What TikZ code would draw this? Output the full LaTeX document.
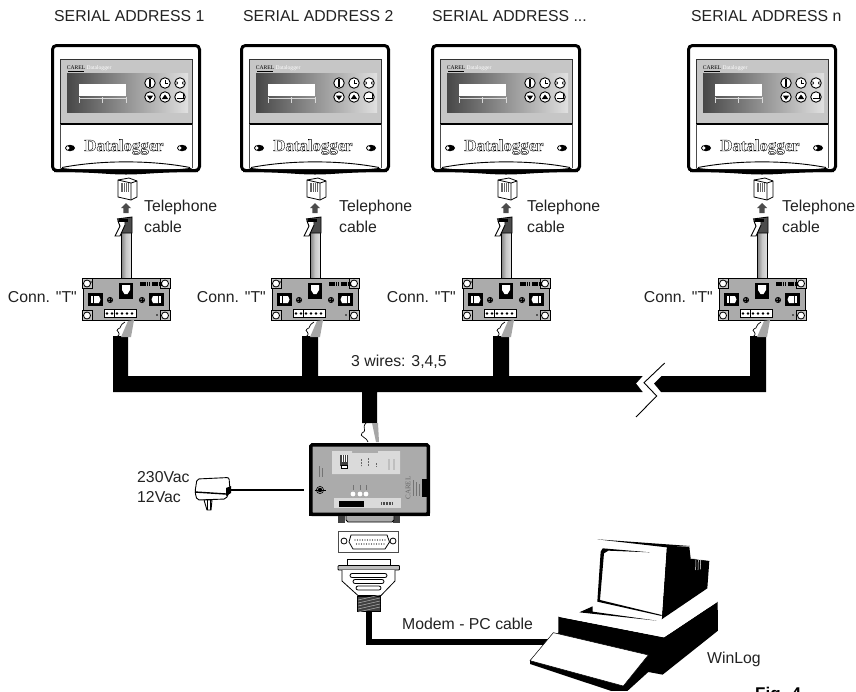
\documentclass[tikz,border=0pt]{standalone}
\usepackage{fontspec}
\setmainfont{Liberation Sans}[Ligatures=TeXOff]
\newfontfamily\dlfont{Liberation Serif}[BoldFeatures={FakeBold=2.2}]
\newfontfamily\smfont{Liberation Serif}
\usetikzlibrary{arrows.meta}
\definecolor{txt}{HTML}{222222}
\definecolor{panel}{HTML}{C6C6C6}
\definecolor{boxg}{HTML}{ABABAB}
\definecolor{lightp}{HTML}{DADADA}
\tikzset{
  lbl/.style={anchor=west,inner sep=0pt,text=txt,font=\fontsize{15.8}{18}\selectfont},
  lble/.style={lbl,anchor=east},
  btn/.style={circle,draw=black,line width=.9pt,fill=white,minimum size=10.5pt,inner sep=0pt},
  screwc/.style={circle,draw=black,line width=.8pt,fill=white,minimum size=7pt,inner sep=0pt}
}
% #1 centre x, #2 name
\newcommand\dlunit[2]{%
\begin{scope}[shift={(#1,0)}]
  \node[draw=black,line width=3pt,rounded corners=4pt,fill=white,minimum width=147pt,minimum height=125pt,inner sep=0pt] (#2) at (0,108) {};
  \fill[panel] (-66,59) rectangle (66,124);
  \draw[black!80,line width=.8pt] (-66,124) -- (-66,59) -- (66,59) -- (66,124);
  \draw[black,line width=1.2pt] (-66,124) -- (66,124);
  \draw[black!70,line width=.7pt] (-66,124) -- (-66,168) (66,124) -- (66,168);
  \shade[left color=black!72,right color=black!12] (-59,73) rectangle (62,112);
  \fill[white] (-47,84) rectangle (0,96);
  \draw[white!85!black,line width=.6pt] (-47,97) -- (-47,103) (-24,97) -- (-24,103) (0,97) -- (0,103) (-47,98) -- (0,98);
  \node[inner sep=0pt,text=black,font=\smfont\fontsize{5.6}{6}\selectfont] (#2c) at (-50,67.5) {CAREL};
  \draw[black,line width=.4pt] (-58,71) -- (-42,71);
  \node[inner sep=0pt,text=white,font=\smfont\fontsize{5.6}{6}\selectfont] at (-27,68) {Datalogger};
  \node[btn] at (24,83) {}; \node[btn] at (39,83) {}; \node[btn] at (54,83) {};
  \node[btn] at (24,97) {}; \node[btn] at (39,97) {}; \node[btn] at (54,97) {};
  \fill[black] (23.2,78.5) rectangle (24.8,86.5);
  \draw[black,line width=.7pt] (39,83) -- (39,79.5) (39,83) -- (42,83);
  \fill[black] (52,83) -- (50.6,80.8) -- (50.6,85.2) -- cycle (56,83) -- (57.4,80.8) -- (57.4,85.2) -- cycle;
  \fill[black] (20.8,95.5) -- (27.2,95.5) -- (24,100) -- cycle;
  \fill[black] (35.8,99) -- (42.2,99) -- (39,94.5) -- cycle;
  \draw[black,line width=.9pt] (57,93.5) -- (57,98) -- (51,98);
  % eyes
  \fill[black] (-56,148) ellipse (5pt and 3.2pt);
  \fill[white] (-58.2,148) circle (1.9pt);
  \fill[black] (56,148) ellipse (5pt and 3.2pt);
  \fill[white] (53.8,148) circle (1.9pt);
  % name
  \node[inner sep=0pt,font=\dlfont\bfseries\fontsize{16.8}{18}\selectfont] at (-2,147) {\special{pdf:bcolor [1] [0]}Datalogger\special{pdf:ecolor}};
  % lower lip
  \fill[white] (-66,168.5) .. controls (-25,160) and (25,160) .. (66,168.5) -- (66,169) -- (-66,169) -- cycle;
  \draw[black,line width=.9pt] (-64,167.5) .. controls (-25,160) and (25,160) .. (64,167.5);
  \fill[black] (-64,168) .. controls (-30,172) and (30,172) .. (64,168) -- (72,171) -- (72,172) .. controls (30,172) and (20,174.5) .. (0,174.5) .. controls (-20,174.5) and (-30,172) .. (-72,172) -- (-72,171) -- cycle;
  % socket on the logger
  \draw[black,line width=.8pt,fill=white] (-8,180) -- (3,178) -- (11,181) -- (11,197) -- (5,200) -- (-8,197) -- cycle;
  \draw[black,line width=.8pt] (-8,180) -- (5,183) -- (11,181) (5,183) -- (5,200);
  \fill[black!60] (-5,183) rectangle (3,192);
  \draw[white,line width=.5pt] (-3,183) -- (-3,192) (-1,183) -- (-1,192) (1,183) -- (1,192);
  % arrow
  \fill[black!70] (0,203) -- (5,208) -- (2.7,208) -- (2.7,213) -- (-2.7,213) -- (-2.7,208) -- (-5,208) -- cycle;
  % cable
  \shade[left color=black!50,right color=black!12,middle color=black!22] (-5,230) rectangle (5,278);
  \draw[black,line width=.9pt] (-5,230) -- (-5,278) (5,230) -- (5,278);
  % plug
  \fill[black!70] (-9,219) -- (6,217) -- (6,233) -- (-4,233) -- cycle;
  \draw[black,line width=.9pt] (-9,219) -- (6,217) -- (6,233) -- (-5,233);
  \draw[black,line width=.9pt,fill=white] (-8,221) -- (-1,221) -- (-1,225) -- (-6,236) -- (-11,236) -- (-6,226) -- cycle;
  \fill[black] (-7,218.5) rectangle (2,222);
  % T connector
  \node[draw=black,line width=1pt,fill=boxg,minimum width=86pt,minimum height=42pt,inner sep=0pt] (#2t) at (0,299.5) {};
  \foreach \p/\q in {-39/283.5,39/283.5,-39/315.5,39/315.5}{
    \draw[black,line width=.6pt,fill=panel] (\p-5,\q-5) rectangle (\p+5,\q+5);
    \node[screwc] at (\p,\q) {};}
  \fill[black] (-38,293) rectangle (-23,306);
  \fill[white] (-35,296) rectangle (-33,303);
  \fill[white] (-32,296) -- (-27,296) -- (-25.5,299.5) -- (-27,303) -- (-32,303) -- cycle;
  \fill[black] (23,293) rectangle (38,306);
  \fill[white] (33,296) rectangle (35,303);
  \fill[white] (32,296) -- (27,296) -- (25.5,299.5) -- (27,303) -- (32,303) -- cycle;
  \fill[black] (-7,283) rectangle (7,299);
  \fill[white] (-4,285) -- (4,285) -- (4,290) -- (1.5,294) -- (-1.5,294) -- (-4,290) -- cycle;
  \foreach \p in {-16,16}{
    \draw[black,line width=.8pt,fill=black!60] (\p,300) circle (2.6pt);
    \draw[black,line width=.4pt] (\p-2,300) -- (\p+2,300) (\p,298) -- (\p,302);}
  \draw[black,line width=4pt,dash pattern=on 1.6pt off .6pt] (14,284) -- (23.5,284) (26,284) -- (35.5,284);
  \fill[black] (-35,282) circle (.8pt);
  \fill[black] (31,315) circle (.9pt);
  \draw[black,line width=.7pt,fill=white] (-22,309) rectangle (10,317);
  \foreach \p in {-19,-14,-9,-4,1,6}{\fill[black] (\p,313.5) circle (1.4pt);}
  \draw[black,line width=.7pt] (-12,309) -- (-12,317);
  \draw[black,line width=.7pt] (-1,322) .. controls (-7,325) and (-4,328) .. (-8,329) .. controls (-12,331) and (-3,332) .. (-9,337);
  \fill[black!35] (2,321) -- (8,320) -- (5,337) -- (-5,337) -- cycle;
\end{scope}}
\begin{document}
\begin{tikzpicture}[x=1pt,y=-1pt]
\useasboundingbox (0,0) rectangle (856,691);
\fill[white] (0,0) rectangle (856,691);
\begin{scope}
\clip (0,0) rectangle (856,691);
\node[anchor=west,inner sep=0pt,text=black,font=\bfseries\fontsize{17}{20}\selectfont] (figlabel) at (755,695) {Fig. 4};
\end{scope}

% bus behind connectors
\fill[black] (113,336) -- (128,336) -- (128,376) -- (302,376) -- (302,336) -- (318,336) -- (318,376) -- (493,376) -- (493,336) -- (509,336) -- (509,376) -- (642.7,376) -- (636,383.5) -- (642.7,392) -- (377,392) -- (377,423) -- (362,423) -- (362,392) -- (113,392) -- cycle;
\fill[black] (661.7,376) -- (750,376) -- (750,336) -- (766,336) -- (766,392) -- (661,392) -- (654,383.5) -- cycle;
\draw[black,line width=.9pt] (664.7,363) -- (644,382.7) -- (656.7,396) -- (636,417);

\dlunit{126}{a}
\dlunit{315}{b}
\dlunit{506}{c}
\dlunit{762}{d}

% labels
\node[lbl] (s1) at (54,16) {SERIAL ADDRESS 1};
\node[lbl] (s2) at (243,16) {SERIAL ADDRESS 2};
\node[lbl] (s3) at (432,16) {SERIAL ADDRESS ...};
\node[lbl] (s4) at (691,16) {SERIAL ADDRESS n};
\node[lbl] (t1) at (144,207) {Telephone};
\node[lbl] (t1b) at (144,227) {cable};
\node[lbl] (t2) at (339,207) {Telephone};
\node[lbl] (t2b) at (339,227) {cable};
\node[lbl] (t3) at (527,207) {Telephone};
\node[lbl] (t3b) at (527,227) {cable};
\node[lbl] (t4) at (782,207) {Telephone};
\node[lbl] (t4b) at (782,227) {cable};
\node[lble] (k1) at (77,297) {Conn. "T"};
\node[lble] (k2) at (266,297) {Conn. "T"};
\node[lble] (k3) at (456,297) {Conn. "T"};
\node[lble] (k4) at (713,297) {Conn. "T"};
\node[lbl] (wires) at (351,362) {3 wires: 3,4,5};
\node[lbl] (v1) at (137,477) {230Vac};
\node[lbl] (v2) at (137,497) {12Vac};
\node[lbl] (mc) at (402,624) {Modem - PC cable};
\node[lbl] (wl) at (707,659) {WinLog};

% wires to the device
\draw[black,line width=.7pt] (366,423) .. controls (361,428) and (368,430) .. (362,433) .. controls (358,436) and (368,438) .. (368,442);
\fill[black!35] (372,423) -- (378,423) -- (379,442) -- (376,442) -- cycle;

% device
\node[draw=black,line width=3.5pt,rounded corners=1.5pt,fill=boxg,minimum width=117.5pt,minimum height=69.5pt,inner sep=0pt] (dev) at (369.5,479.5) {};
\fill[black] (309,513) rectangle (430,516);
\fill[lightp] (332,451) -- (352,451) -- (352,453) -- (378,453) -- (378,451) -- (400,451) -- (400,474) -- (332,474) -- cycle;
\fill[black!75] (340,455) rectangle (348,466);
\draw[black,line width=.7pt,fill=white] (341,465) rectangle (347,468.5);
\draw[white,line width=.4pt] (342,455) -- (342,462) (344,455) -- (344,462) (346,455) -- (346,462);
\foreach \p/\a/\b in {361/459/466,368/458/466,376/463/467}{\draw[black!60,line width=.9pt,dash pattern=on 1pt off .4pt] (\p,\a) -- (\p,\b);}
\foreach \p in {389,394}{\draw[black!25,line width=1.4pt] (\p,459) -- (\p,470);}
\draw[black!55,line width=.7pt] (319,466) -- (319,477) (322,468) -- (322,477);
\draw[black,line width=.6pt] (320,490) circle (3.6pt);
\fill[black] (320,490) circle (2.2pt);
\draw[black,line width=.5pt] (314.5,490) -- (325.5,490);
\foreach \p in {353,360,366}{\fill[white] (\p,494) circle (2.4pt);}
\foreach \p/\a in {353/490,360/490,366/490}{\draw[black!55,line width=.8pt] (\p,485) -- (\p,\a);}
\fill[lightp] (334,498) rectangle (401,508);
\fill[black] (339,501) rectangle (364,507);
\draw[black!70,line width=3pt,dash pattern=on 1pt off .5pt] (381,503) -- (393,503);
\fill[black] (422,479) rectangle (430,497);
\draw[black!55,line width=.7pt] (413,480) -- (413,496) (416,482) -- (416,496) (419,484) -- (419,496);
\node[inner sep=0pt,text=black!60,rotate=90,font=\smfont\fontsize{7}{8}\selectfont] (devc) at (408,488) {CAREL};

% DB feet under device
\fill[black!75] (338,516) rectangle (345,522.5);
\fill[black!75] (393,516) rectangle (400,522.5);
\draw[black,line width=.8pt,fill=boxg] (346,516) -- (346,520) -- (348,522) -- (392,522) -- (394,520) -- (394,516);

% female plate
\node[draw=black!70,line width=1pt,fill=white,minimum width=60pt,minimum height=21pt,inner sep=0pt] (plate) at (368.5,541.5) {};
\draw[black,line width=.8pt] (344,541) circle (3pt) (393,541) circle (3pt);
\draw[black,line width=.8pt] (351,535) -- (387,535) -- (389.5,542) -- (385,549) -- (353,549) -- (349,542) -- cycle;
\foreach \p in {0,...,12}{\fill[black] (355+\p*2.5,540) circle (.55pt);}
\foreach \p in {0,...,11}{\fill[black] (356.5+\p*2.5,544) circle (.55pt);}

% male plug
\draw[black,line width=.8pt,fill=white] (347.5,559) rectangle (390,566);
\draw[black,line width=.8pt,fill=black!25,rounded corners=.8pt] (338,565.5) rectangle (399.5,570);
\draw[black,line width=.8pt,fill=white] (342,570) -- (342,581) -- (358,595.5) -- (381,595.5) -- (395,581) -- (395,570);
\foreach \a/\b/\c in {350/387/575.5,353/384/581.5,356/381/588}{
  \draw[black,line width=.8pt,fill=white,rounded corners=2pt] (\a,\c-2) rectangle (\b,\c+2);}
\node[fill=black!75,draw=black,line width=.8pt,minimum width=23pt,minimum height=15pt,inner sep=0pt] (strain) at (369,604) {};
\foreach \q in {598,601,604,607,610}{\draw[white!70!black,line width=.5pt] (358,\q+2) -- (380,\q-3);}

% modem cable
\coordinate (pcin) at (549,642);
\draw[black,line width=6.5pt,line join=miter] (strain.south -| 369,611) -- (369,642) -- (pcin);

% adapter
\coordinate (adpt) at (230,490);
\draw[black,line width=1.5pt] (adpt) -- (304,490);
\draw[black,line width=.9pt,fill=white,rounded corners=2pt] (197,479) -- (229,477.5) -- (230,490) -- (226,499) -- (197,500) -- (195,492) -- cycle;
\draw[black,line width=1.4pt] (195,492) -- (226,494);
\fill[black] (226,488) -- (231,486) -- (231,493) -- (226,496) -- cycle;
\draw[black,line width=.9pt,fill=white] (204,500) -- (212,500) -- (211,510) -- (207,510) -- cycle;
\draw[black,line width=1pt] (207,500) -- (207,510) (210,500) -- (210,510);

% computer
\begin{scope}[shift={(480,500)},x=.3333pt,y=-.3333pt]
  \clip (-100,-50) rectangle (1000,573);
  % base
  \fill[black] (235,350) -- (552,412) -- (713,305) -- (714,392) -- (548,524) -- (505,516) -- (440,575) -- (400,575) -- (150,492) -- (150,482) -- (235,398) -- cycle;
  \fill[white] (235,350) -- (300,338) -- (540,300) -- (713,305) -- (552,412) -- cycle;
  % keyboard
  \draw[black,line width=.5pt,fill=white] (220,398) -- (505,465) -- (430,558) -- (150,482) -- cycle;
  % monitor
  \fill[black] (560,140) -- (628,140) -- (632,175) -- (688,183) -- (682,265) -- (545,358) -- cycle;
  \fill[white] (352,120) -- (560,140) -- (545,358) -- (340,320) -- (338,335) -- (305,335) -- (352,300) -- cycle;
  \fill[black] (352,118) -- (630,138) -- (560,142) -- cycle;
  % screen rim
  \fill[black] (368,145) -- (510,157) -- (385,152) -- (372,160) -- (360,300) -- (545,345) -- (545,348) -- (352,305) -- (362,155) -- cycle;
  % shadow under monitor
  \fill[black] (298,337) -- (338,319) -- (338,335) -- (530,362) -- cycle;
  \draw[white,line width=.5pt] (648,180) -- (647,210) (655,180) -- (654,210) (662,180) -- (661,208);
  \draw[white,line width=.5pt] (632,175) -- (670,180);
\end{scope}
\end{tikzpicture}
\end{document}
